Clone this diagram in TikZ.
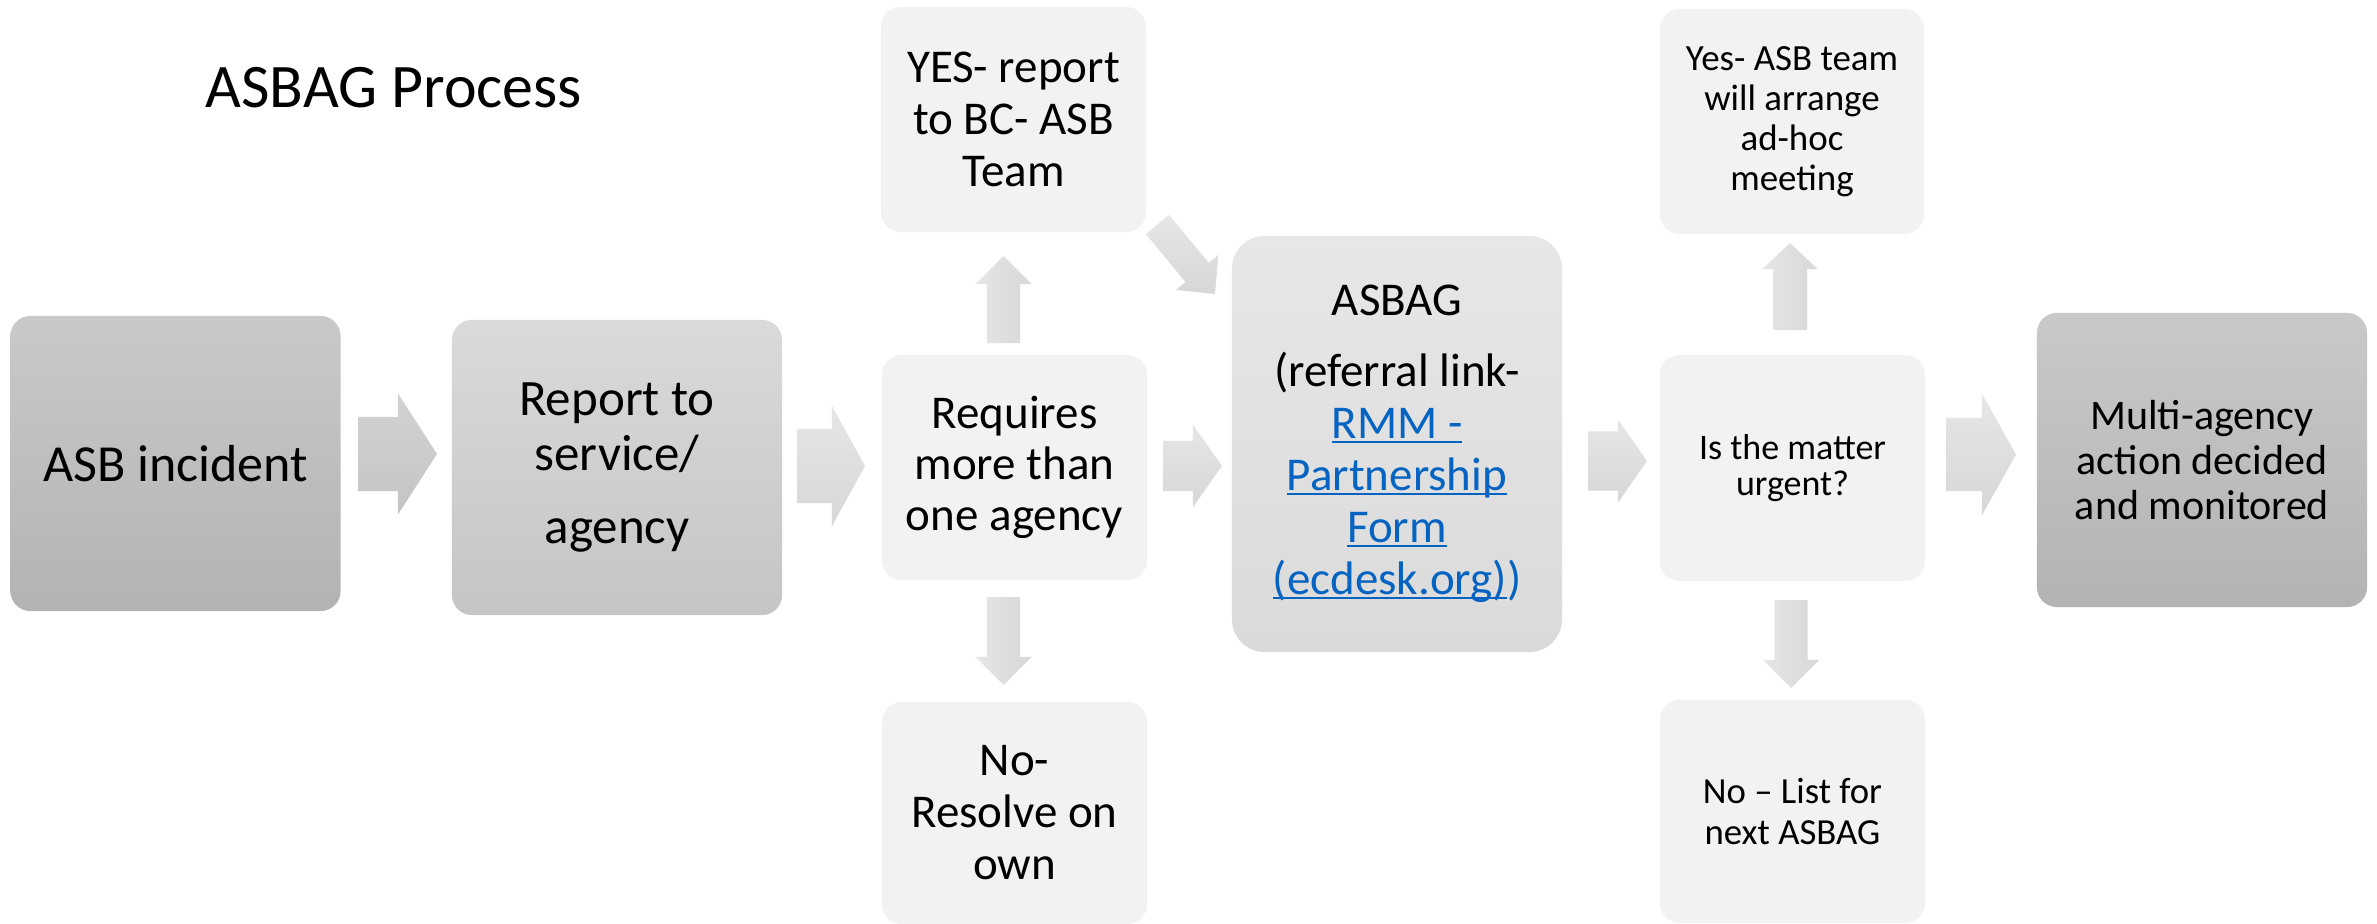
\documentclass[tikz,border=0pt]{standalone}
\usepackage{fontspec}
\setmainfont{Carlito}
\usetikzlibrary{calc}
\definecolor{boxlight}{HTML}{F2F2F2}
\definecolor{darktop}{HTML}{C9C9C9}
\definecolor{darkbot}{HTML}{B3B3B3}
\definecolor{midtop}{HTML}{DADADA}
\definecolor{midbot}{HTML}{C5C5C5}
\definecolor{paletop}{HTML}{E7E7E7}
\definecolor{palebot}{HTML}{DADADA}
\definecolor{arrA}{HTML}{E6E6E6}
\definecolor{arrB}{HTML}{D7D7D7}
\definecolor{arrdA}{HTML}{D3D3D3}
\definecolor{arrdB}{HTML}{C4C4C4}
\definecolor{linkblue}{HTML}{0563C1}
\newcommand\fsz[2]{\fontsize{#1}{#2}\selectfont}
\newcommand\lnk[1]{\setbox0\hbox{\color{linkblue}#1}{\color{linkblue}\rlap{\rule[-1.3pt]{\wd0}{0.7pt}}}\box0}
\newcommand\blockarrow[6]{%
  \coordinate (hb) at ($(#3)!#6!(#2)$);
  \path[#1] ($(#2)!#4!90:(#3)$) -- ($(hb)!#4!-90:(#2)$) -- ($(hb)!#5!-90:(#2)$) -- (#3)
    -- ($(hb)!#5!90:(#2)$) -- ($(hb)!#4!90:(#2)$) -- ($(#2)!#4!-90:(#3)$) -- cycle;
}
\tikzset{
  box/.style={rectangle, rounded corners=0.2cm, align=center, inner sep=0pt, text=black},
  lightbox/.style={box, fill=boxlight, minimum width=2.65cm, minimum height=2.25cm},
  darkbox/.style={box, shade, top color=darktop, bottom color=darkbot, minimum width=3.3cm, minimum height=2.95cm},
  harrow/.style={shade, top color=arrA, bottom color=arrB},
  harrowdark/.style={shade, top color=arrdA, bottom color=arrdB},
  varrow/.style={shade, left color=arrA, right color=arrB},
}
\begin{document}
\begin{tikzpicture}[x=0.01cm, y=-0.01cm]
\fill[white] (0,0) rectangle (2377,924);
\useasboundingbox (0,0) rectangle (2377,924);

\node[anchor=base west, inner sep=0pt, font=\fsz{17.6pt}{21pt}] (title) at (205,107) {ASBAG Process};

\node[darkbox, font=\fsz{14.8pt}{17pt}] (inc) at (175.5,463.5) {ASB incident};
\node[box, shade, top color=midtop, bottom color=midbot, minimum width=3.3cm, minimum height=2.95cm,
      font=\fsz{14.5pt}{15.65pt}] (rep) at (617,467.5) {Report to\\service/\\[5.1pt]agency};
\node[lightbox, font=\fsz{13.37pt}{14.8pt}] (yes1) at (1013.5,119.5) {YES- report\\to BC- ASB\\Team};
\node[lightbox, font=\fsz{13.37pt}{14.5pt}] (req) at (1014.5,467.5) {Requires\\more than\\one agency};
\node[lightbox, minimum height=2.22cm, font=\fsz{13.37pt}{14.8pt}] (no1) at (1014.5,813) {No-\\Resolve on\\own};
\node[box, rounded corners=0.33cm, shade, top color=paletop, bottom color=palebot, minimum width=3.3cm, minimum height=4.16cm,
      font=\fsz{13.37pt}{14.8pt}] (asbag) at (1397,444)
      {ASBAG\\[5.4pt](referral link-\\\lnk{RMM -}\\\lnk{Partnership}\\\lnk{Form}\\\lnk{(ecdesk.org)})};
\node[lightbox, minimum width=2.64cm, font=\fsz{10.5pt}{11.4pt}] (yes2) at (1792,121.5) {Yes- ASB team\\will arrange\\ad-hoc\\meeting};
\node[lightbox, minimum height=2.26cm, font=\fsz{10.24pt}{10.1pt}] (urg) at (1792.5,468) {Is the matter\\urgent?};
\node[lightbox, minimum height=2.23cm, font=\fsz{10.45pt}{11.4pt}] (no2) at (1792.5,811.5) {No -- List for\\next ASBAG};
\node[darkbox, minimum height=2.94cm, font=\fsz{11.95pt}{12.8pt}] (multi) at (2202,460) {Multi-agency\\action decided\\and monitored};

% connector end points
\coordinate (a1s) at (358,454);     \coordinate (a1e) at (437,454);
\coordinate (a2s) at (797,466);     \coordinate (a2e) at (865,466);
\coordinate (a3s) at (1163,466);    \coordinate (a3e) at (1222,466);
\coordinate (a4s) at (1588,461);    \coordinate (a4e) at (1647,461);
\coordinate (a5s) at (1946,454.5);  \coordinate (a5e) at (2016,454.5);
\coordinate (u1s) at (1003.5,343);  \coordinate (u1e) at (1003.5,256);
\coordinate (d1s) at (1003.5,597);  \coordinate (d1e) at (1003.5,685);
\coordinate (dgs) at (1157.5,224.5);\coordinate (dge) at (1215,294);
\coordinate (u2s) at (1790,330);    \coordinate (u2e) at (1790,243);
\coordinate (d2s) at (1791,600);    \coordinate (d2e) at (1791,688);

\blockarrow{harrowdark}{a1s}{a1e}{0.37cm}{0.605cm}{0.39cm}
\blockarrow{harrow}{a2s}{a2e}{0.37cm}{0.60cm}{0.33cm}
\blockarrow{harrow}{a3s}{a3e}{0.25cm}{0.41cm}{0.29cm}
\blockarrow{harrow}{a4s}{a4e}{0.295cm}{0.415cm}{0.29cm}
\blockarrow{harrow}{a5s}{a5e}{0.365cm}{0.605cm}{0.34cm}
\blockarrow{varrow}{u1s}{u1e}{0.165cm}{0.28cm}{0.28cm}
\blockarrow{varrow}{d1s}{d1e}{0.165cm}{0.28cm}{0.28cm}
\blockarrow{harrow}{dgs}{dge}{0.15cm}{0.275cm}{0.28cm}
\blockarrow{varrow}{u2s}{u2e}{0.17cm}{0.275cm}{0.26cm}
\blockarrow{varrow}{d2s}{d2e}{0.165cm}{0.28cm}{0.28cm}
\end{tikzpicture}
\end{document}
